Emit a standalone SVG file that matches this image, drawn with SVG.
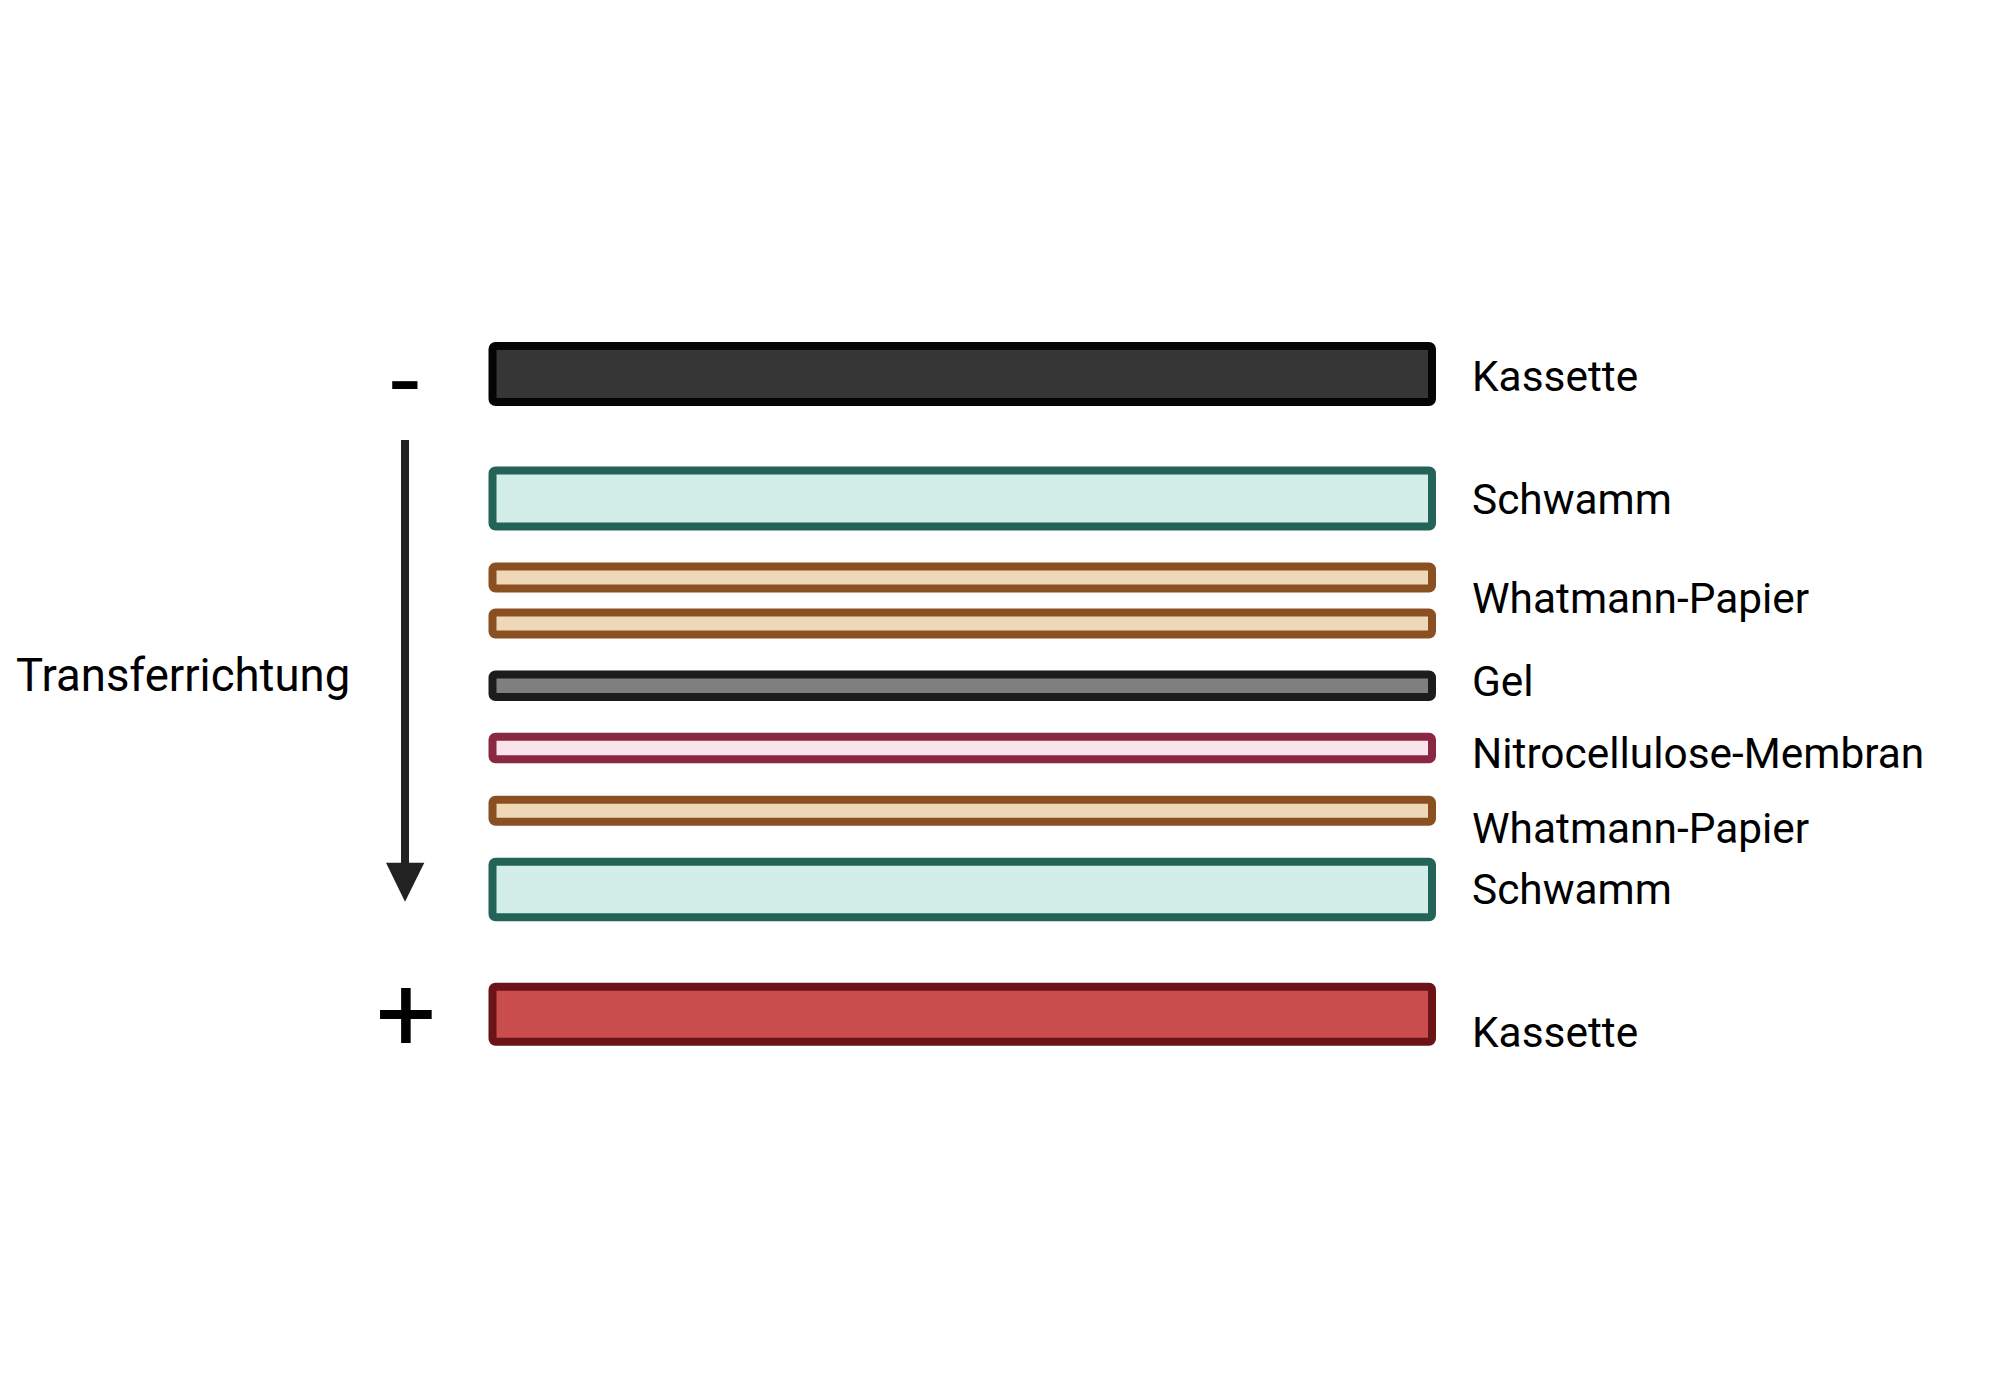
<svg xmlns="http://www.w3.org/2000/svg" width="2000" height="1400" viewBox="0 0 2000 1400">
<style>
text{font-family:Roboto,"Liberation Sans",sans-serif;fill:#000}
.lbl{font-size:42.4px}
.layer{stroke-width:8}
.kas1{fill:#363636;stroke:#050505}
.schw{fill:#d3ede8;stroke:#236358}
.what{fill:#eed8b8;stroke:#8b5022}
.gel{fill:#7f7f7f;stroke:#1c1c1c}
.nitro{fill:#fae3ea;stroke:#8a2844}
.kas2{fill:#c94d4d;stroke:#6b1418}
.sign{font-size:106px;text-anchor:middle}
</style>
<rect width="2000" height="1400" fill="#ffffff"/>
<g id="kassette-top"><rect class="layer kas1" x="492.5" y="346" width="939.5" height="56" rx="3"/><text class="lbl" x="1472" y="391">Kassette</text></g>
<g id="schwamm-top"><rect class="layer schw" x="492.5" y="470.5" width="939.5" height="56" rx="3"/><text class="lbl" x="1472" y="514">Schwamm</text></g>
<g id="whatmann-1"><rect class="layer what" x="492.5" y="566.5" width="939.5" height="22" rx="3"/></g>
<g id="whatmann-2"><rect class="layer what" x="492.5" y="612.5" width="939.5" height="22" rx="3"/><text class="lbl" x="1472" y="613">Whatmann-Papier</text></g>
<g id="gel"><rect class="layer gel" x="492.5" y="674.5" width="939.5" height="22.5" rx="3"/><text class="lbl" x="1472" y="696">Gel</text></g>
<g id="nitro"><rect class="layer nitro" x="492.5" y="736.7" width="939.5" height="22.5" rx="3"/><text class="lbl" x="1472" y="768">Nitrocellulose-Membran</text></g>
<g id="whatmann-3"><rect class="layer what" x="492.5" y="799.7" width="939.5" height="22" rx="3"/><text class="lbl" x="1472" y="843">Whatmann-Papier</text></g>
<g id="schwamm-bottom"><rect class="layer schw" x="492.5" y="861.7" width="939.5" height="55.5" rx="3"/><text class="lbl" x="1472" y="904">Schwamm</text></g>
<g id="kassette-bottom"><rect class="layer kas2" x="492.5" y="986.7" width="939.5" height="55" rx="3"/><text class="lbl" x="1472" y="1047">Kassette</text></g>
<g id="minus"><text class="sign" x="405" y="417">-</text></g>
<g id="plus"><text class="sign" x="406" y="1050">+</text></g>
<g id="transfer-label"><text x="16" y="691" font-size="45.5">Transferrichtung</text></g>
<g id="connectors">
<line x1="405" y1="440" x2="405" y2="864" stroke="#222222" stroke-width="8"/>
<polygon points="386,862.7 424.3,862.7 405,901.7" fill="#222222"/>
</g>
</svg>
